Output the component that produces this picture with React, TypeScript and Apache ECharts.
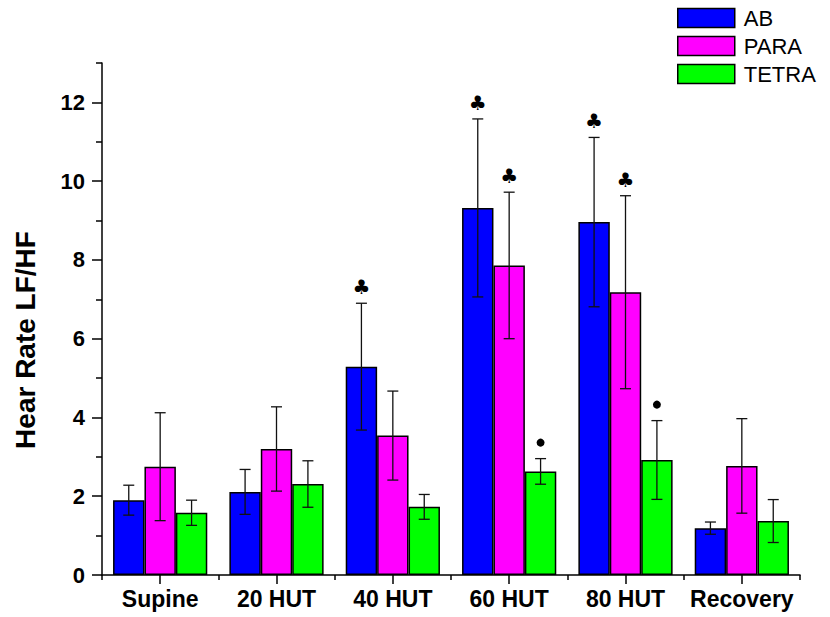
import React, { useEffect, useRef } from "react";
import * as echarts from "echarts";

const categories = ["Supine", "20 HUT", "40 HUT", "60 HUT", "80 HUT", "Recovery"];
const seriesNames = ["AB", "PARA", "TETRA"];
const abValues = [1.9, 2.11, 5.29, 9.32, 8.96, 1.19];
const abErrors = [0.38, 0.57, 1.61, 2.26, 2.15, 0.155];
const paraValues = [2.75, 3.2, 3.54, 7.86, 7.18, 2.77];
const paraErrors = [1.37, 1.07, 1.13, 1.86, 2.45, 1.2];
const tetraValues = [1.58, 2.31, 1.73, 2.63, 2.92, 1.37];
const tetraErrors = [0.32, 0.59, 0.315, 0.325, 1.0, 0.545];
const abMarks = ["", "", "♣", "♣", "♣", ""];
const paraMarks = ["", "", "", "♣", "♣", ""];
const tetraMarks = ["", "", "", "●", "●", ""];
const majorTicks = [0, 2, 4, 6, 8, 10, 12];
const minorTicks = [1, 3, 5, 7, 9, 11, 13];

const colors = ["#0000FF", "#FF00FF", "#00FF00"];
const FONT = "'Liberation Sans', Arial, Helvetica, sans-serif";
const GAP_RATIO = 0.19;

export default function App() {
  const ref = useRef<HTMLDivElement>(null);
  useEffect(() => {
    document.body.style.margin = "0";
    if (!ref.current) return;
    const chart = echarts.init(ref.current, null, { renderer: "svg" });
    const values = [abValues, paraValues, tetraValues];
    const errors = [abErrors, paraErrors, tetraErrors];
    const marks = [abMarks, paraMarks, tetraMarks];

    const barSeries = seriesNames.map((name, k) => ({
      name,
      type: "bar",
      xAxisIndex: 0,
      yAxisIndex: 0,
      data: values[k],
      barCategoryGap: GAP_RATIO * 100 + "%",
      barGap: "0%",
      itemStyle: { color: colors[k], borderColor: "#000", borderWidth: 1.5 },
      emphasis: { disabled: true },
      z: 2,
    }));

    const errSeries = seriesNames.map((name, k) => ({
      name: name + " err",
      type: "custom",
      xAxisIndex: 0,
      yAxisIndex: 0,
      z: 5,
      silent: true,
      data: values[k].map((v, i) => [i, v, errors[k][i]]),
      renderItem: (params: any, api: any) => {
        const i = api.value(0);
        const v = api.value(1);
        const e = api.value(2);
        const band = api.size([1, 0])[0];
        const barW = (band * (1 - GAP_RATIO)) / 3;
        const cx = api.coord([i, v])[0] + (k - 1) * barW;
        const yTop = api.coord([i, v + e])[1];
        const yBot = api.coord([i, v - e])[1];
        const cap = 5.5;
        const ls = { stroke: "#111", lineWidth: 1.3 };
        const children: any[] = [
          { type: "line", shape: { x1: cx, y1: yTop, x2: cx, y2: yBot }, style: ls },
          { type: "line", shape: { x1: cx - cap, y1: yTop, x2: cx + cap, y2: yTop }, style: ls },
          { type: "line", shape: { x1: cx - cap, y1: yBot, x2: cx + cap, y2: yBot }, style: ls },
        ];
        const m = marks[k][params.dataIndex];
        if (m === "●") {
          children.push({ type: "circle", shape: { cx, cy: yTop - 16, r: 4 }, style: { fill: "#000" } });
        } else if (m) {
          children.push({
            type: "text",
            style: {
              text: m,
              x: cx,
              y: yTop - 16,
              align: "center",
              verticalAlign: "middle",
              fill: "#000",
              font: "20px 'DejaVu Sans', sans-serif",
            },
          });
        }
        return { type: "group", children };
      },
    }));

    chart.setOption({
      animation: false,
      backgroundColor: "#fff",
      legend: {
        data: seriesNames,
        orient: "vertical",
        left: 677,
        top: 7,
        itemWidth: 57,
        itemHeight: 19,
        itemGap: 6,
        icon: "rect",
        padding: 0,
        selectedMode: false,
        textStyle: { fontSize: 22, fontFamily: FONT, color: "#000", padding: [0, 0, 0, 4], lineHeight: 22 },
        itemStyle: { borderColor: "#000", borderWidth: 1.5 },
      },
      grid: { left: 102, right: 30, top: 63, bottom: 42, containLabel: false },
      xAxis: [
        {
          type: "category",
          data: categories,
          position: "bottom",
          axisLine: { show: true, lineStyle: { color: "#000", width: 1.5 } },
          axisTick: { show: true, alignWithLabel: true, length: 9, lineStyle: { color: "#000", width: 1.5 } },
          axisLabel: { interval: 0, color: "#000", fontSize: 23, fontWeight: "bold", fontFamily: FONT, margin: 12 },
          splitLine: { show: false },
        },
        {
          type: "category",
          data: categories,
          position: "bottom",
          offset: 0,
          axisLine: { show: false },
          axisTick: { show: true, interval: 0, length: 5, lineStyle: { color: "#000", width: 1.5 } },
          axisLabel: { show: false },
          splitLine: { show: false },
        },
      ],
      yAxis: [
        {
          type: "value",
          min: 0,
          max: 13,
          interval: 1,
          position: "left",
          name: "Hear Rate LF/HF",
          nameLocation: "middle",
          nameGap: 63,
          nameTextStyle: { fontSize: 28, fontWeight: "bold", fontFamily: FONT, color: "#000", padding: [0, 42, 0, 0] },
          axisLine: { show: true, lineStyle: { color: "#000", width: 1.5 } },
          axisTick: { show: true, customValues: majorTicks, length: 10, lineStyle: { color: "#000", width: 1.5 } },
          axisLabel: { customValues: majorTicks, color: "#000", fontSize: 22, fontWeight: "bold", fontFamily: FONT, margin: 17 },
          splitLine: { show: false },
        },
        {
          type: "value",
          min: 0,
          max: 13,
          interval: 1,
          position: "left",
          offset: 0,
          axisLine: { show: false },
          axisTick: { show: true, customValues: minorTicks, length: 6, lineStyle: { color: "#000", width: 1.5 } },
          axisLabel: { show: false },
          splitLine: { show: false },
        },
      ],
      series: [...barSeries, ...errSeries],
    });
    return () => chart.dispose();
  }, []);
  return <div ref={ref} style={{ width: 830, height: 617 }} />;
}
